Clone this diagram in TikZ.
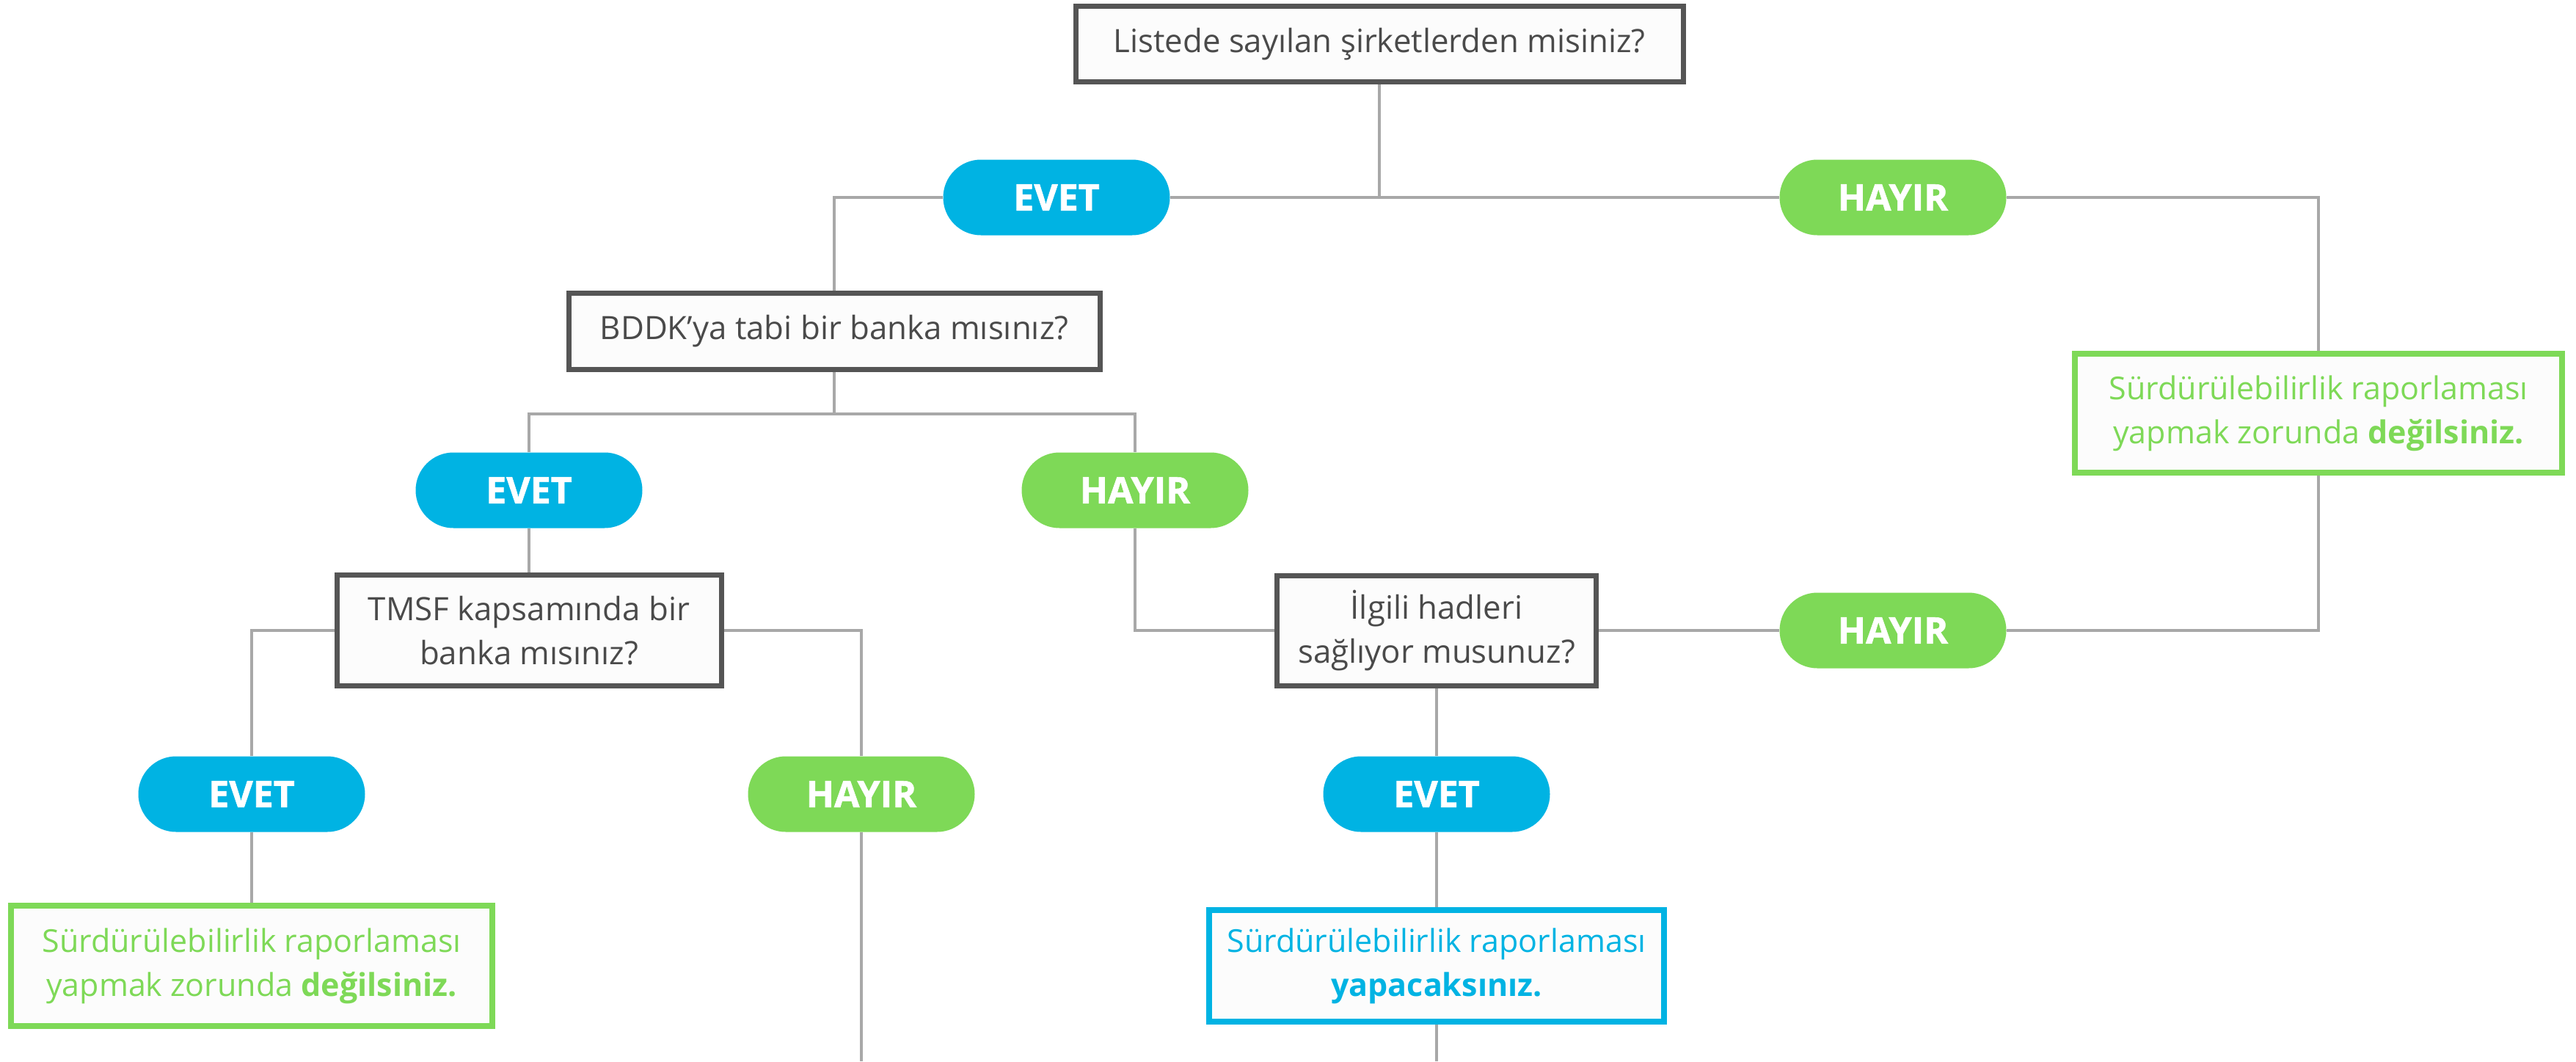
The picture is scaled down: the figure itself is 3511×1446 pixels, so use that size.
\documentclass[tikz,border=0pt]{standalone}
\usepackage{fontspec}
\setmainfont{Open Sans}
\newfontfamily\pillfont{Open Sans}[BoldFeatures={FakeBold=1.2}]
\usetikzlibrary{backgrounds}
\definecolor{cblue}{HTML}{00B3E3}
\definecolor{cgreen}{HTML}{7ED957}
\definecolor{cdark}{HTML}{555555}
\definecolor{ctext}{HTML}{4A4A4A}
\definecolor{cline}{HTML}{A8A8A8}
\definecolor{cfill}{HTML}{FCFCFC}
\tikzset{
  qbox/.style={draw=cdark, line width=7pt, fill=cfill, text=ctext, align=center, inner sep=0pt,
    font=\fontsize{43.8}{60}\selectfont},
  pill/.style={rounded corners=51.5pt, minimum width=309pt, minimum height=103pt, inner sep=0pt,
    text=white, font=\pillfont\bfseries\fontsize{50}{50}\selectfont},
  yes/.style={pill, fill=cblue},
  no/.style={pill, fill=cgreen},
  resbox/.style={line width=7.5pt, fill=cfill, align=center, inner sep=0pt,
    font=\fontsize{43}{60}\selectfont},
  resg/.style={resbox, draw=cgreen, text=cgreen},
  resb/.style={resbox, draw=cblue, text=cblue},
  conn/.style={draw=cline, line width=4pt}
}
\begin{document}
\begin{tikzpicture}[x=1pt,y=-1pt]
\useasboundingbox (0,0) rectangle (3511,1446);
% questions
\node[qbox, minimum width=828pt, minimum height=103pt] (q1) at (1880,60) {Listede sayılan şirketlerden misiniz?};
\node[qbox, minimum width=724pt, minimum height=104pt] (q2) at (1137,451) {BDDK’ya tabi bir banka mısınız?};
\node[qbox, minimum width=524pt, minimum height=151pt] (q3) at (721,859) {TMSF kapsamında bir\\banka mısınız?};
\node[qbox, minimum width=435pt, minimum height=150pt] (q4) at (1958,859) {İlgili hadleri\\sağlıyor musunuz?};
% pills
\node[yes] (ev1) at (1440,269) {EVET};
\node[no]  (hy1) at (2580,269) {HAYIR};
\node[yes] (ev2) at (721,668) {EVET};
\node[no]  (hy2) at (1547,668) {HAYIR};
\node[no]  (hy3) at (2580,859) {HAYIR};
\node[yes] (ev4) at (343,1082) {EVET};
\node[no]  (hy4) at (1174,1082) {HAYIR};
\node[yes] (ev5) at (1958,1082) {EVET};
% results
\node[resg, minimum width=664pt, minimum height=162pt] (r1) at (3160,563) {Sürdürülebilirlik raporlaması\\yapmak zorunda \textbf{değilsiniz.}};
\node[resg, minimum width=656pt, minimum height=164pt] (r2) at (343,1316) {Sürdürülebilirlik raporlaması\\yapmak zorunda \textbf{değilsiniz.}};
\node[resb, minimum width=620pt, minimum height=152pt] (r3) at (1958,1316) {Sürdürülebilirlik raporlaması\\\textbf{yapacaksınız.}};
\coordinate (end1) at (1174,1446);
\coordinate (end2) at (1958,1446);
\coordinate (s2) at (1137,564);
\begin{scope}[on background layer]
\fill[white] (0,0) rectangle (3511,1446);
\draw[conn] (q1.south) -- (q1.south |- ev1.center);
\draw[conn] (ev1.west) -| (q2.north);
\draw[conn] (ev1.east) -- (hy1.west);
\draw[conn] (hy1.east) -| (r1.north);
\draw[conn] (r1.south) |- (hy3.east);
\draw[conn] (hy3.west) -- (q4.east);
\draw[conn] (q2.south) -- (s2);
\draw[conn] (ev2.north) |- (s2) -| (hy2.north);
\draw[conn] (ev2.south) -- (q3.north);
\draw[conn] (hy2.south) |- (q4.west);
\draw[conn] (q3.west) -| (ev4.north);
\draw[conn] (q3.east) -| (hy4.north);
\draw[conn] (hy4.south) -- (end1);
\draw[conn] (ev4.south) -- (r2.north);
\draw[conn] (q4.south) -- (ev5.north);
\draw[conn] (ev5.south) -- (r3.north);
\draw[conn] (r3.south) -- (end2);
\end{scope}
\end{tikzpicture}
\end{document}
